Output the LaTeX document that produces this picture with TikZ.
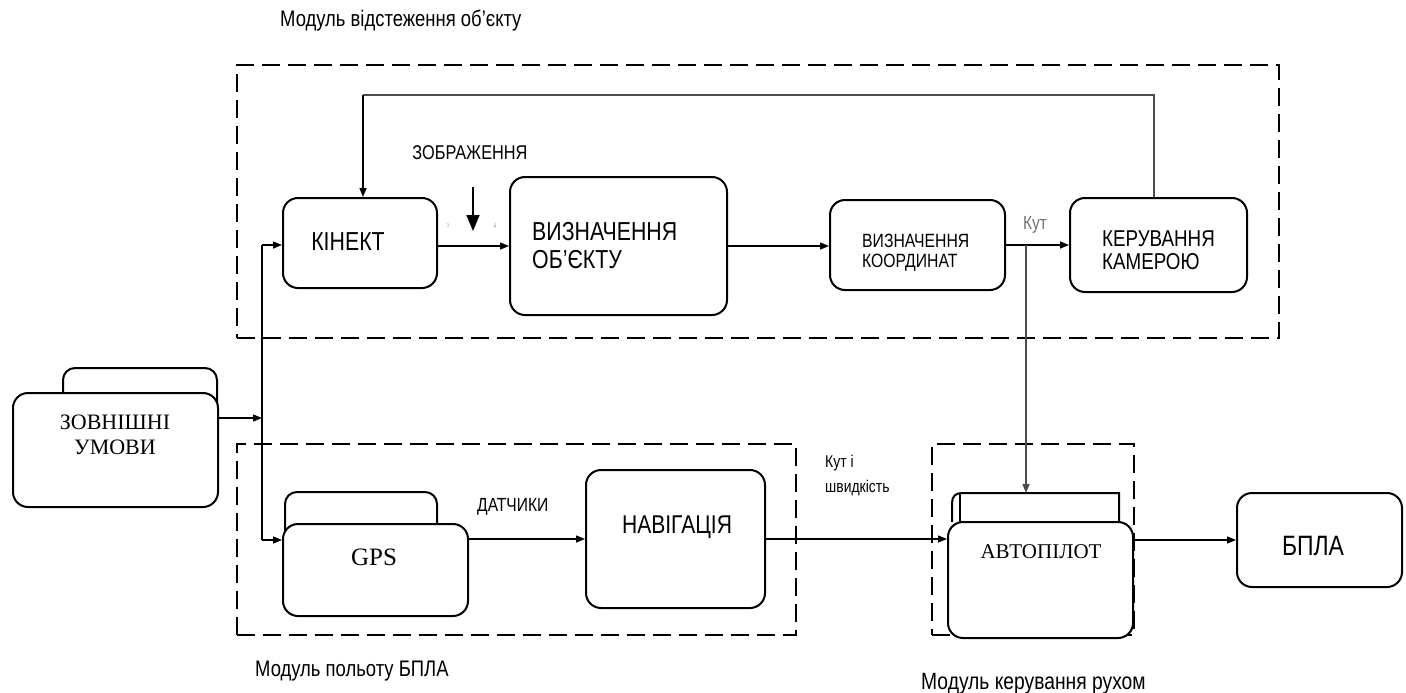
\documentclass[tikz,border=0pt]{standalone}
\usepackage{fontspec}
\setmainfont{Liberation Serif}
\newfontfamily\sfn[FakeStretch=0.82]{Liberation Sans}
\newfontfamily\srf{Liberation Serif}
\usetikzlibrary{arrows.meta}
\newcommand\fsz[2]{\fontsize{#1}{#2}\selectfont}
\begin{document}
\begin{tikzpicture}[x=1pt,y=-1pt,
  box/.style={draw=black,line width=2pt,rounded corners=15pt,fill=white,inner sep=0pt},
  backbox/.style={draw=black,line width=2pt,rounded corners=12pt,fill=white},
  modbox/.style={draw=black,line width=2.5pt,dash pattern=on 18pt off 8pt,inner sep=0pt},
  arr/.style={line width=1.4pt,-{Triangle[length=9pt,width=7pt]}},
  bigarr/.style={line width=1.6pt,-{Triangle[length=16pt,width=13pt]}},
  fbline/.style={draw=black!70,line width=1.3pt},
  txt/.style={inner sep=0pt,align=left},
  stxt/.style={inner sep=0pt,align=center}
]
\useasboundingbox (0,0) rectangle (1406,693);

% module frames
\node[modbox,minimum width=1042pt,minimum height=273pt] (mtrack) at (758,201.5) {};
\node[modbox,minimum width=559pt,minimum height=191pt] (mfly) at (516.5,539.5) {};
\node[modbox,minimum width=202pt,minimum height=191pt] (mmove) at (1033,539.5) {};

% module titles
\node[inner sep=0pt,anchor=base west,font=\sfn\fsz{22.5}{26}] (ttrack) at (280,27) {Модуль відстеження об’єкту};
\node[inner sep=0pt,anchor=base west,font=\sfn\fsz{22.5}{26}] (tfly) at (255,676) {Модуль польоту БПЛА};
\node[inner sep=0pt,anchor=base west,font=\sfn\fsz{23.5}{27}] (tmove) at (921,689) {Модуль керування рухом};

% boxes - top row
\node[box,minimum width=154pt,minimum height=90pt] (kin) at (360,243) {};
\node[box,minimum width=217pt,minimum height=138pt] (obj) at (618.5,246) {};
\node[box,minimum width=175pt,minimum height=90pt] (crd) at (917.5,245) {};
\node[box,minimum width=177pt,minimum height=94pt] (cam) at (1158.5,245) {};

\node[inner sep=0pt,anchor=base,font=\sfn\fsz{26}{30}] (kint) at (348,250) {КІНЕКТ};
\node[txt,anchor=north west,font=\sfn\fsz{26}{28}] (objt) at (532,222) {ВИЗНАЧЕННЯ\\ОБ’ЄКТУ};
\node[txt,anchor=north west,font=\sfn\fsz{19.2}{20}] (crdt) at (862,234) {ВИЗНАЧЕННЯ\\КООРДИНАТ};
\node[txt,anchor=north west,font=\sfn\fsz{22.9}{23}] (camt) at (1102,231) {КЕРУВАННЯ\\КАМЕРОЮ};

% external conditions
\node[backbox,minimum width=154pt,minimum height=100pt] (extb) at (140,418) {};
\node[box,minimum width=205pt,minimum height=114pt] (ext) at (115.5,450) {};
\node[stxt,anchor=north,font=\srf\fsz{22}{25}] (extt) at (115,415) {ЗОВНІШНІ\\УМОВИ};

% GPS
\node[backbox,minimum width=152pt,minimum height=70pt] (gpsb) at (361,527) {};
\node[box,minimum width=185pt,minimum height=92pt] (gps) at (375.5,570) {};
\node[inner sep=0pt,anchor=base,font=\srf\fsz{25}{28}] (gpst) at (374,565) {GPS};

% navigation
\node[box,minimum width=179pt,minimum height=138pt] (nav) at (675.5,539) {};
\node[inner sep=0pt,anchor=base,font=\sfn\fsz{25.7}{29}] (navt) at (677,533) {НАВІГАЦІЯ};

% autopilot
\coordinate (apbL) at (952,522);
\coordinate (apbT) at (962,493);
\coordinate (apbR) at (1119,493);
\coordinate (apbB) at (1119,522);
\draw[line width=2pt,fill=white] (apbL) -- (952,503) .. controls (952,496) and (956,493) .. (apbT) -- (apbR) -- (apbB);
\draw[line width=1.5pt] (960,493) -- (960,522);
\node[box,minimum width=185pt,minimum height=116pt] (ap) at (1040.5,580) {};
\node[inner sep=0pt,anchor=base,font=\srf\fsz{21}{24}] (apt) at (1041,558) {АВТОПІЛОТ};

% UAV
\node[box,minimum width=165pt,minimum height=94pt] (uav) at (1319.5,540) {};
\node[inner sep=0pt,anchor=base,font=\sfn\fsz{28}{32}] (uavt) at (1313,555) {БПЛА};

% labels
\node[inner sep=0pt,anchor=base,font=\sfn\fsz{19.9}{23}] (zobr) at (470,159) {ЗОБРАЖЕННЯ};
\node[inner sep=0pt,anchor=base,font=\sfn\fsz{19}{22},text=black!55] (kut) at (1035,229) {Кут};
\node[inner sep=0pt,anchor=base west,font=\sfn\fsz{17}{20}] (kut1) at (825,467) {Кут і};
\node[inner sep=0pt,anchor=base west,font=\sfn\fsz{17}{20}] (kut2) at (825,492) {швидкість};
\node[inner sep=0pt,anchor=base west,font=\sfn\fsz{19}{22}] (dat) at (477,511) {ДАТЧИКИ};
\node[inner sep=0pt,font=\sfn\fsz{7}{8},text=black!35] (m3) at (448,226) {з};
\node[inner sep=0pt,font=\sfn\fsz{7}{8},text=black!35] (m4) at (495,226) {4};

% connectors: top row
\draw[arr] (obj.west -| kin.east) -- (obj.west);
\draw[arr] (obj.east) -- (obj.east -| crd.west);
\draw[arr] (crd.east) -- (crd.east -| cam.west);
\coordinate (zA) at (473,187);
\coordinate (zB) at (473,231);
\draw[bigarr] (zA) -- (zB);

% feedback loop
\coordinate (fbR) at (1154,95);
\coordinate (fbL) at (363,95);
\draw[fbline] (cam.north -| fbR) -- (fbR) -- (fbL);
\draw[arr] (fbL) -- (fbL |- kin.north);

% angle branch to autopilot
\coordinate (br) at (1026,245);
\draw[fbline,arr] (br) -- (br |- apbT);

% bus from external conditions
\coordinate (busT) at (262,245);
\coordinate (busB) at (262,540);
\coordinate (extA) at (218,418);
\draw[line width=1.4pt] (busT) -- (busB);
\draw[arr] (busT) -- (busT -| kin.west);
\draw[arr] (busB) -- (busB -| gps.west);
\draw[arr] (extA) -- (extA -| busT);

% lower row
\draw[arr] (nav.west -| gps.east) -- (nav.west);
\draw[arr] (nav.east) -- (nav.east -| ap.west);
\draw[arr] (uav.west -| ap.east) -- (uav.west);
\end{tikzpicture}
\end{document}
